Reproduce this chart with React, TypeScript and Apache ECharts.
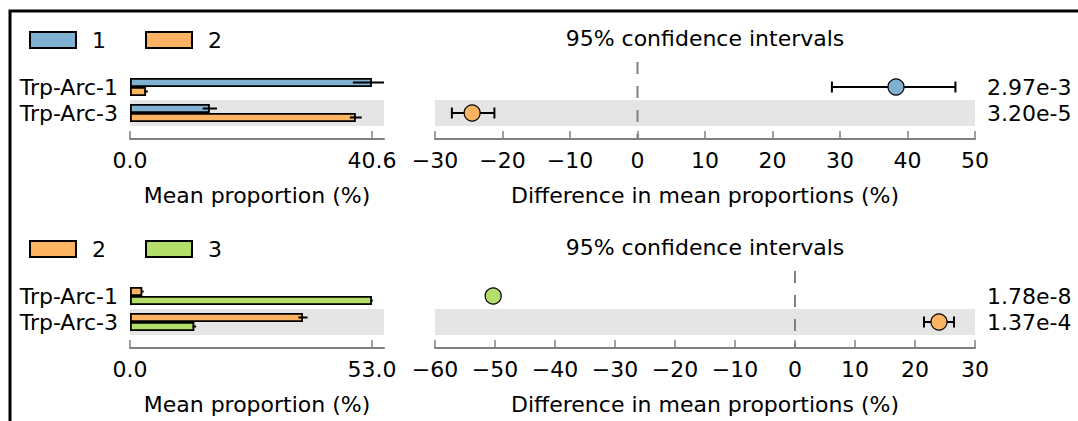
import React, { useEffect, useRef } from 'react';
import * as echarts from 'echarts';

// ---------- data ----------
const categories = ['Trp-Arc-1', 'Trp-Arc-3'];

// Panel A: group 1 vs group 2
const panelAGroups = ['1', '2'];
const panelAMeanFirst = [40.6, 13.4];
const panelAErrFirst = [3.2, 1.2];
const panelAMeanSecond = [2.7, 37.9];
const panelAErrSecond = [0.3, 1.0];
const panelADiff = [38.3, -24.5];
const panelACiLow = [28.8, -27.5];
const panelACiHigh = [47.1, -21.2];
const panelAPValues = ['2.97e-3', '3.20e-5'];
const panelADiffRange = [-30, 50];

// Panel B: group 2 vs group 3
const panelBGroups = ['2', '3'];
const panelBMeanFirst = [2.7, 37.9];
const panelBErrFirst = [0.3, 1.0];
const panelBMeanSecond = [53.0, 14.1];
const panelBErrSecond = [0.2, 0.4];
const panelBDiff = [-50.3, 24.0];
const panelBCiLow = [-51.3, 21.5];
const panelBCiHigh = [-49.3, 26.5];
const panelBPValues = ['1.78e-8', '1.37e-4'];
const panelBDiffRange = [-60, 30];

const groupColors: Record<string, string> = {
  '1': '#80b1d3',
  '2': '#fdb462',
  '3': '#b3de69',
};

const diffTitle = '95% confidence intervals';
const meanAxisName = 'Mean proportion (%)';
const diffAxisName = 'Difference in mean proportions (%)';

// ---------- layout / style ----------
const FONT = 'DejaVu Sans';
const FS = 22;
const AXIS_GRAY = '#808080';
const BAND = '#e5e5e5';
const BAR_W = 9;
const BAR_OFFSETS = [-4.5, 4.5];

type Panel = {
  groups: string[];
  meanFirst: number[];
  errFirst: number[];
  meanSecond: number[];
  errSecond: number[];
  diff: number[];
  ciLow: number[];
  ciHigh: number[];
  pValues: string[];
  diffRange: number[];
};

const panels: Panel[] = [
  {
    groups: panelAGroups,
    meanFirst: panelAMeanFirst,
    errFirst: panelAErrFirst,
    meanSecond: panelAMeanSecond,
    errSecond: panelAErrSecond,
    diff: panelADiff,
    ciLow: panelACiLow,
    ciHigh: panelACiHigh,
    pValues: panelAPValues,
    diffRange: panelADiffRange,
  },
  {
    groups: panelBGroups,
    meanFirst: panelBMeanFirst,
    errFirst: panelBErrFirst,
    meanSecond: panelBMeanSecond,
    errSecond: panelBErrSecond,
    diff: panelBDiff,
    ciLow: panelBCiLow,
    ciHigh: panelBCiHigh,
    pValues: panelBPValues,
    diffRange: panelBDiffRange,
  },
];

const PANEL_TOPS = [74, 283];
const ROWS_H = 52;
const LEFT_X = 130;
const LEFT_W = 254;
const RIGHT_X = 435;
const RIGHT_W = 540;

const minus = (v: number) => String(v).replace('-', '\u2212');

function buildOption() {
  const grid: any[] = [];
  const xAxis: any[] = [];
  const yAxis: any[] = [];
  const series: any[] = [];
  const legend: any[] = [];
  const title: any[] = [];

  panels.forEach((p, k) => {
    const top = PANEL_TOPS[k];
    const maxMean = Math.max(...p.meanFirst, ...p.meanSecond);
    const meanAxisMax = maxMean * 1.05;
    const gL = 2 * k;
    const gR = 2 * k + 1;
    const yL = 3 * k;
    const yR = 3 * k + 1;

    grid.push({ left: LEFT_X, top, width: LEFT_W, height: ROWS_H });
    grid.push({ left: RIGHT_X, top, width: RIGHT_W, height: ROWS_H });

    const axisCommon = {
      axisLine: { show: true, lineStyle: { color: AXIS_GRAY, width: 2 } },
      axisTick: { show: true, inside: true, length: 8, lineStyle: { color: AXIS_GRAY, width: 1.5 } },
      splitLine: { show: false },
      nameLocation: 'middle',
      nameGap: 45,
      nameTextStyle: { fontSize: FS, color: '#000', fontFamily: FONT },
      offset: 13,
    };

    xAxis.push({
      ...axisCommon,
      type: 'value',
      gridIndex: gL,
      min: 0,
      max: meanAxisMax,
      name: meanAxisName,
      axisTick: { ...axisCommon.axisTick, customValues: [0, maxMean] },
      axisLabel: {
        customValues: [0, maxMean],
        formatter: (v: number) => v.toFixed(1),
        fontSize: FS,
        color: '#000',
        fontFamily: FONT,
        margin: 10,
      },
    });
    xAxis.push({
      ...axisCommon,
      type: 'value',
      gridIndex: gR,
      min: p.diffRange[0],
      max: p.diffRange[1],
      interval: 10,
      name: diffAxisName,
      axisLabel: {
        formatter: (v: number) => minus(v),
        fontSize: FS,
        color: '#000',
        fontFamily: FONT,
        margin: 10,
      },
    });

    const catAxis = {
      type: 'category',
      data: categories,
      inverse: true,
      axisLine: { show: false },
      axisTick: { show: false },
      splitArea: { show: true, interval: 0, areaStyle: { color: ['rgba(0,0,0,0)', BAND] } },
    };
    yAxis.push({
      ...catAxis,
      gridIndex: gL,
      axisLabel: { interval: 0, hideOverlap: false, fontSize: FS, color: '#000', fontFamily: FONT, margin: 12 },
    });
    yAxis.push({ ...catAxis, gridIndex: gR, axisLabel: { show: false } });
    yAxis.push({
      type: 'category',
      gridIndex: gR,
      data: p.pValues,
      inverse: true,
      position: 'right',
      axisLine: { show: false },
      axisTick: { show: false },
      splitArea: { show: false },
      axisLabel: { interval: 0, hideOverlap: false, fontSize: FS, color: '#000', fontFamily: FONT, margin: 12 },
    });

    // bars
    const means = [p.meanFirst, p.meanSecond];
    const errs = [p.errFirst, p.errSecond];
    p.groups.forEach((g, gi) => {
      series.push({
        type: 'bar',
        name: g,
        xAxisIndex: gL,
        yAxisIndex: yL,
        data: means[gi],
        barWidth: BAR_W,
        barGap: '0%',
        itemStyle: { color: groupColors[g], borderColor: '#000', borderWidth: 1.8 },
        z: 2,
      });
    });
    p.groups.forEach((g, gi) => {
      const off = BAR_OFFSETS[gi];
      series.push({
        type: 'custom',
        name: 'err-' + g,
        xAxisIndex: gL,
        yAxisIndex: yL,
        data: means[gi].map((m, i) => [m, i, errs[gi][i]]),
        encode: { x: 0, y: 1 },
        z: 3,
        renderItem: (params: any, api: any) => {
          const m = api.value(0);
          const c = api.value(1);
          const e = api.value(2);
          const lo = api.coord([Math.max(0, m - e), c]);
          const hi = api.coord([Math.min(meanAxisMax, m + e), c]);
          return {
            type: 'line',
            shape: { x1: lo[0], y1: lo[1] + off, x2: hi[0], y2: hi[1] + off },
            style: { stroke: '#000', lineWidth: 2 },
          };
        },
      });
    });

    // zero dashed line
    series.push({
      type: 'custom',
      name: 'zero',
      xAxisIndex: gR,
      yAxisIndex: yR,
      data: [[0, 0]],
      encode: { x: 0, y: 1 },
      z: 2,
      renderItem: (params: any, api: any) => {
        const pt = api.coord([0, 0]);
        const cs = params.coordSys;
        return {
          type: 'line',
          shape: { x1: pt[0], y1: cs.y - 12, x2: pt[0], y2: cs.y + cs.height + 13 },
          style: { stroke: AXIS_GRAY, lineWidth: 2, lineDash: [12, 12] },
        };
      },
    });

    // CI lines
    series.push({
      type: 'custom',
      name: 'ci',
      xAxisIndex: gR,
      yAxisIndex: yR,
      data: p.ciLow.map((lo, i) => [lo, p.ciHigh[i], i]),
      encode: { x: [0, 1], y: 2 },
      z: 3,
      renderItem: (params: any, api: any) => {
        const a = api.coord([api.value(0), api.value(2)]);
        const b = api.coord([api.value(1), api.value(2)]);
        const cap = 5.5;
        const st = { stroke: '#000', lineWidth: 2 };
        return {
          type: 'group',
          children: [
            { type: 'line', shape: { x1: a[0], y1: a[1], x2: b[0], y2: b[1] }, style: st },
            { type: 'line', shape: { x1: a[0], y1: a[1] - cap, x2: a[0], y2: a[1] + cap }, style: st },
            { type: 'line', shape: { x1: b[0], y1: b[1] - cap, x2: b[0], y2: b[1] + cap }, style: st },
          ],
        };
      },
    });

    // difference points
    series.push({
      type: 'scatter',
      name: 'diff',
      xAxisIndex: gR,
      yAxisIndex: yR,
      symbol: 'circle',
      symbolSize: 16,
      z: 4,
      data: p.diff.map((d, i) => ({
        value: [d, i],
        itemStyle: {
          color: d >= 0 ? groupColors[p.groups[0]] : groupColors[p.groups[1]],
          borderColor: '#000',
          borderWidth: 1.2,
          opacity: 1,
        },
      })),
    });

    legend.push({
      data: p.groups,
      left: 29,
      top: top - 45,
      padding: 0,
      icon: 'rect',
      itemWidth: 46,
      itemHeight: 16,
      itemGap: 39,
      selectedMode: false,
      textStyle: { fontSize: FS, color: '#000', fontFamily: FONT, padding: [0, 0, 0, 11] },
    });

    title.push({
      text: diffTitle,
      left: RIGHT_X + RIGHT_W / 2,
      textAlign: 'center',
      top: top - 47,
      padding: 0,
      textStyle: { fontSize: FS, fontWeight: 'normal', color: '#000', fontFamily: FONT },
    });
  });

  return {
    animation: false,
    backgroundColor: '#fff',
    textStyle: { fontFamily: FONT },
    title,
    legend,
    grid,
    xAxis,
    yAxis,
    series,
    graphic: [
      {
        type: 'polyline',
        shape: { points: [[10, 421], [10, 11], [1078, 11]] },
        style: { stroke: '#000', lineWidth: 3, fill: null },
        z: 10,
      },
    ],
  };
}

export default function App() {
  const ref = useRef<HTMLDivElement>(null);
  useEffect(() => {
    if (!ref.current) return;
    const chart = echarts.init(ref.current, null, { renderer: 'svg' });
    chart.setOption(buildOption() as any);
    return () => chart.dispose();
  }, []);
  return (
    <div
      ref={ref}
      style={{ position: 'absolute', left: 0, top: 0, width: 1078, height: 421 }}
    />
  );
}
